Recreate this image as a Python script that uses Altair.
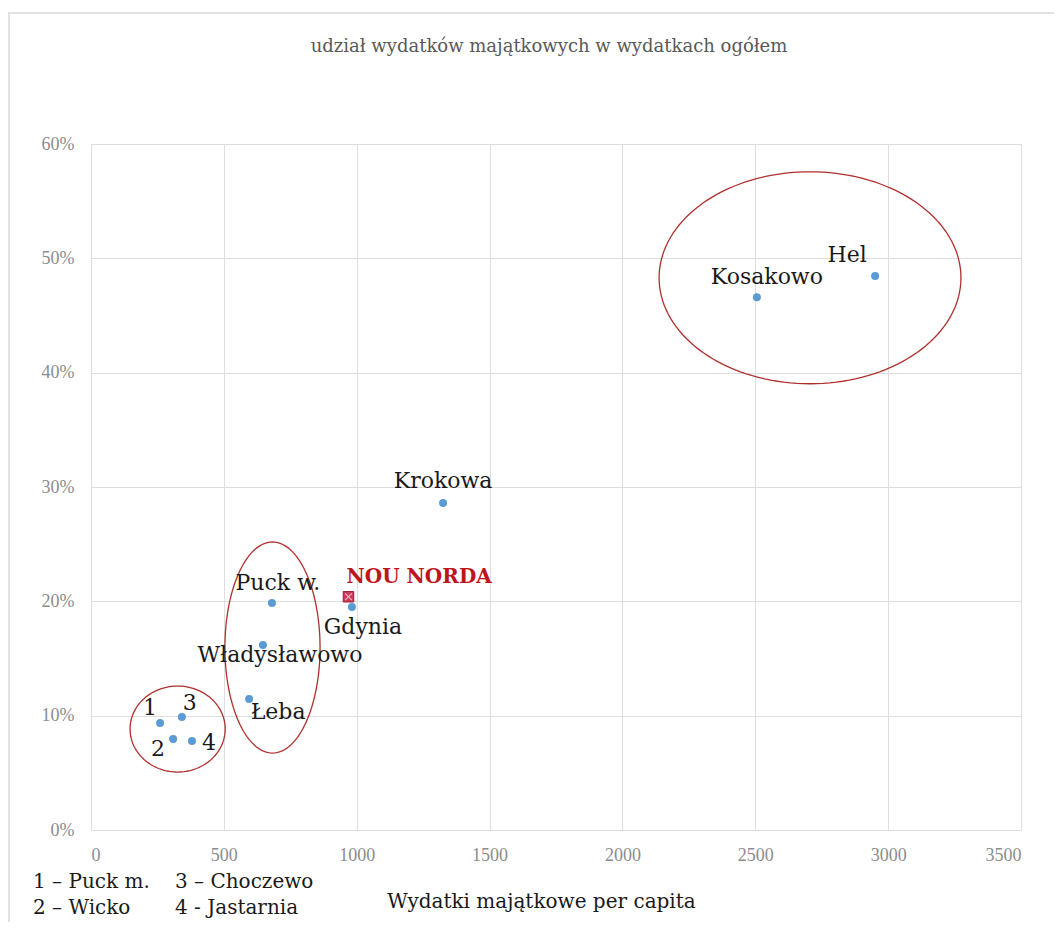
import altair as alt
import pandas as pd
import numpy as np

# ---- data ----
names = ["1", "2", "3", "4", "Łeba", "Władysławowo", "Puck w.", "Gdynia",
         "Krokowa", "Kosakowo", "Hel"]
x_vals = [260, 309, 342, 380, 595, 647, 681, 982, 1325, 2506, 2951]
y_vals = [0.0936, 0.0796, 0.0988, 0.0778, 0.1146, 0.1618, 0.1985, 0.195,
          0.286, 0.466, 0.4845]
label_dx = [-10, -15, 8, 17, 29, 17, 6, 11, 0, 10, -28]
label_dy = [-15, 10, -14, 2, 13, 10, -20, 20, -22, -20, -21]

nn_name = ["NOU NORDA"]
nn_x = [969]
nn_y = [0.204]

# ellipses (annotation circles) in data units
ell_cx = [326, 683, 2706]
ell_cy = [0.0883, 0.1596, 0.483]
ell_rx = [179, 179, 568]
ell_ry = [0.0376, 0.0923, 0.0927]

legend_lines = [["1 – Puck m.", "3 – Choczewo"], ["2 – Wicko", "4 - Jastarnia"]]

title_text = ["udział wydatków majątkowych w wydatkach ogółem"]
x_title = "Wydatki majątkowe per capita"

x_ticks = [0, 500, 1000, 1500, 2000, 2500, 3000, 3500]
y_ticks = [0, 0.1, 0.2, 0.3, 0.4, 0.5, 0.6]

W, H = 930, 686
LABEL_FONT = "DejaVu Serif"

pts = pd.DataFrame({"name": names, "x": x_vals, "y": y_vals})
nn = pd.DataFrame({"name": nn_name, "x": nn_x, "y": nn_y})

rows = []
t = np.linspace(0, 2 * np.pi, 145)
for g, (cx, cy, rx, ry) in enumerate(zip(ell_cx, ell_cy, ell_rx, ell_ry)):
    for i, a in enumerate(t):
        rows.append({"g": g, "i": i, "x": cx + rx * np.cos(a), "y": cy + ry * np.sin(a)})
ell = pd.DataFrame(rows)

xs = alt.Scale(domain=[0, 3500], nice=False, zero=False)
ys = alt.Scale(domain=[0, 0.6], nice=False, zero=False)

x_axis = alt.Axis(values=x_ticks, format="d", grid=True, gridColor="#dedede",
                  gridWidth=1, domain=False, ticks=False,
                  labelFont="Liberation Serif", labelFontSize=18,
                  labelColor="#8c8c8c", labelPadding=16,
                  title=x_title, titleFont=LABEL_FONT, titleFontSize=20,
                  titleFontWeight="normal", titleColor="#1a1a1a",
                  titleX=450, titleY=77, titleBaseline="alphabetic",
                  titleAlign="center", titleAnchor=None)
y_axis = alt.Axis(values=y_ticks, format=".0%", grid=True, gridColor="#dedede",
                  gridWidth=1, domain=False, ticks=False,
                  labelFont="Liberation Serif", labelFontSize=18,
                  labelColor="#8c8c8c", labelPadding=17, title=None)

base_enc = dict(x=alt.X("x:Q", scale=xs, axis=x_axis),
                y=alt.Y("y:Q", scale=ys, axis=y_axis))

ellipses = alt.Chart(ell).mark_line(color="#b0302e", strokeWidth=1.3).encode(
    x=alt.X("x:Q", scale=xs, axis=x_axis),
    y=alt.Y("y:Q", scale=ys, axis=y_axis),
    detail="g:N",
    order="i:Q",
)

points = alt.Chart(pts).mark_circle(size=64, color="#5b9bd5", opacity=1).encode(**base_enc)

nn_square = alt.Chart(nn).mark_point(shape="square", size=110, filled=True,
                                     fill="#c93a5a", stroke="#9e1f3a",
                                     strokeWidth=1, opacity=1).encode(**base_enc)
nn_cross = alt.Chart(nn).mark_point(shape="M-1,-1L1,1M-1,1L1,-1", size=45,
                                    filled=False, stroke="#f6b0c0",
                                    strokeWidth=1.2, opacity=1).encode(**base_enc)
nn_label = alt.Chart(nn).mark_text(font=LABEL_FONT, fontSize=20, fontWeight="bold",
                                   color="#c0141c", align="left", baseline="middle",
                                   dx=-2, dy=-20).encode(text="name:N", **base_enc)

label_layers = []
for nm, dx, dy in zip(names, label_dx, label_dy):
    label_layers.append(
        alt.Chart(pts[pts["name"] == nm]).mark_text(
            font=LABEL_FONT, fontSize=22, color="#1a1a1a", align="center",
            baseline="middle", dx=dx, dy=dy
        ).encode(text="name:N", **base_enc)
    )

# chart title as text above plot
title_layer = alt.Chart(pd.DataFrame({"t": title_text})).mark_text(
    font=LABEL_FONT, fontSize=18, color="#595959", align="center",
    baseline="alphabetic"
).encode(text="t:N", x=alt.value(458), y=alt.value(-92))

# legend text under the plot
leg_rows = []
for r, line in enumerate(legend_lines):
    for c, txt in enumerate(line):
        leg_rows.append({"txt": txt, "px": [-58, 84][c], "py": [744, 770][r]})
legend_layers = []
for row in leg_rows:
    legend_layers.append(
        alt.Chart(pd.DataFrame({"txt": [row["txt"]]})).mark_text(
            font=LABEL_FONT, fontSize=20, color="#1a1a1a", align="left",
            baseline="alphabetic"
        ).encode(text="txt:N", x=alt.value(row["px"]), y=alt.value(row["py"]))
    )

# outer chart frame (decoration)
frame_v = alt.Chart(pd.DataFrame({"a": [0]})).mark_rule(color="#d9d9d9", strokeWidth=1.5).encode(
    x=alt.value(-82), y=alt.value(-131), y2=alt.value(800))
frame_h = alt.Chart(pd.DataFrame({"a": [0]})).mark_rule(color="#d9d9d9", strokeWidth=1.5).encode(
    x=alt.value(-83), x2=alt.value(980), y=alt.value(-131))

chart = alt.layer(
    frame_v, frame_h, ellipses, points, nn_square, nn_cross, nn_label,
    *label_layers, title_layer, *legend_layers
).properties(
    width=W, height=H,
    autosize=alt.AutoSizeParams(type="none"),
    padding={"left": 83, "top": 136, "right": 33, "bottom": 92},
).configure_view(stroke=None).configure(background="white")

chart.save("out.html", embed_options={"renderer": "svg", "actions": False})
